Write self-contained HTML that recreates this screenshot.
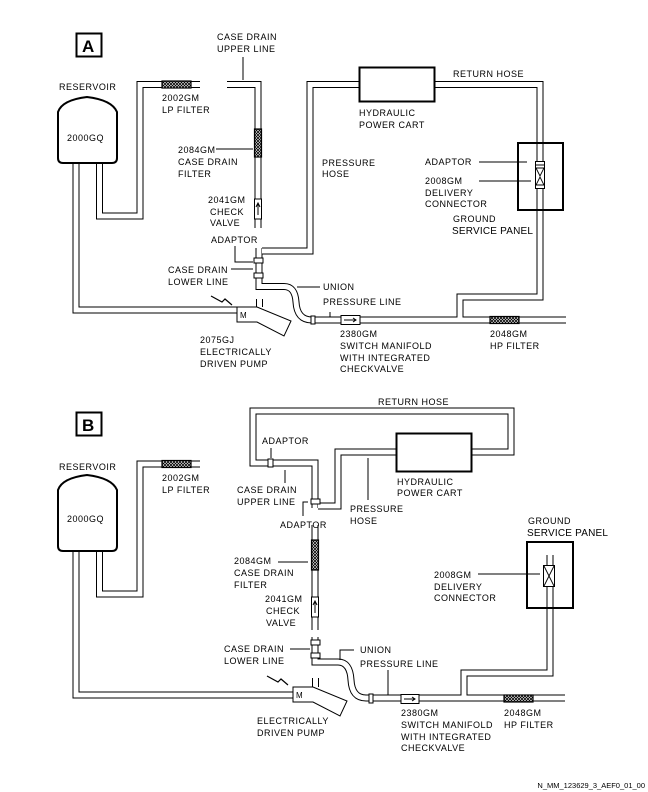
<!DOCTYPE html>
<html><head><meta charset="utf-8"><style>
html,body{margin:0;padding:0;background:#fff}
svg{display:block}
text{font-family:"Liberation Sans",sans-serif;font-size:9px;fill:#000;letter-spacing:0.5px}
</style></head><body>
<svg width="648" height="792" viewBox="0 0 648 792" xmlns="http://www.w3.org/2000/svg">
<defs>
<pattern id="hx" width="3" height="3" patternUnits="userSpaceOnUse">
<rect width="3" height="3" fill="#fff"/><path d="M0,0L3,3M3,0L0,3" stroke="#000" stroke-width="0.8"/>
</pattern>
<g id="pA" fill="none">
<path d="M76,110 L76,310 L238,310"/>
<path d="M99.5,150 L99.5,216 L140,216 L140,84.5 L200,84.5"/>
<path d="M227,84.5 L258,84.5 L258,228"/>
<path d="M259,248 L259,286.5 L284,286.5 Q295,286.5 296,302 Q297,320 312,320 L566,320"/>
<path d="M259.5,299 L259.5,307"/>
<path d="M262,251 L310,251 L310,84.5 L360,84.5"/>
<path d="M434,84.5 L540,84.5 L540,297 L460,297 L460,320"/>
</g>
<g id="pB" fill="none">
<path d="M76,520 L76,695 L293,695"/>
<path d="M99.5,540 L99.5,594 L140,594 L140,464 L200,464"/>
<path d="M472,452 L511,452 L511,411 L253,411 L253,463 L315,463 L315,508"/>
<path d="M396,452 L338,452 L338,506 L318,506"/>
<path d="M315,525 L315,630"/>
<path d="M315,637 L315,662 L338,662 Q350,662 351,680 Q352,698 366,698 L565,698"/>
<path d="M315.5,678 L315.5,687"/>
<path d="M550,555 L550,673 L464,673 L464,698"/>
</g>
</defs>
<use href="#pA" stroke="#000" stroke-width="7"/>
<use href="#pA" stroke="#fff" stroke-width="5"/>
<use href="#pB" stroke="#000" stroke-width="7"/>
<use href="#pB" stroke="#fff" stroke-width="5"/>

<g fill="none" stroke="#000">
<rect x="76.5" y="33.5" width="25" height="23" stroke-width="2"/>
<path d="M58,112 Q62,100 87,97 Q112,100 117,112 L117,158 Q117,163 112,163 L63,163 Q58,163 58,158 Z" fill="#fff" stroke-width="2"/>
<rect x="162" y="81" width="29" height="7" fill="url(#hx)" stroke-width="1.2"/>
<rect x="254.5" y="129" width="7" height="28" fill="url(#hx)" stroke-width="1.2"/>
<rect x="254.5" y="199" width="7" height="20" fill="#fff"/>
<path d="M258,215 L258,204 M256,207 L258,203 L260,207" stroke-width="1"/>
<rect x="254" y="258" width="9" height="5" fill="#fff"/>
<rect x="254" y="273" width="9" height="5" fill="#fff"/>
<path d="M243,57 L243,80 M216,149 L253,149 M235,246 L235,262 L253,262 M231,269 L253,269 M297,287 L320,287 M330,312 L330,317 M479,162 L527,162 M479,181 L531,181" stroke-width="1"/>
<rect x="359.5" y="67.5" width="75" height="34" fill="#fff" stroke-width="2"/>
<rect x="518" y="143" width="45" height="67" stroke-width="2"/>
<rect x="535.5" y="161.5" width="9" height="27" fill="#fff"/>
<path d="M536,165 L544,165 M536,168 L544,168 L540,176 L536,168 M536,185 L544,185 L540,177 Z" stroke-width="0.9"/>
<rect x="341" y="315.5" width="19" height="9" fill="#fff"/>
<path d="M344,320 L356,320 M353,318 L356,320 L353,322" stroke-width="1"/>
<rect x="490" y="316.5" width="29" height="7" fill="url(#hx)" stroke-width="1.2"/>
<rect x="311" y="316" width="4" height="8" fill="#fff"/>
<path d="M237,307 L257,307 L291,321 L284,336 L257,322 L237,322 Z" fill="#fff" stroke-width="1"/>
<path d="M211,296 L222,302 L225,299 L232,305" stroke-width="1.2"/>

<rect x="76.5" y="412.5" width="25" height="23" stroke-width="2"/>
<path d="M58,490 Q62,478 87,475 Q112,478 117,490 L117,546 Q117,551 112,551 L63,551 Q58,551 58,546 Z" fill="#fff" stroke-width="2"/>
<rect x="162" y="460.5" width="29" height="7" fill="url(#hx)" stroke-width="1.2"/>
<rect x="311.5" y="540" width="7" height="30" fill="url(#hx)" stroke-width="1.2"/>
<rect x="311.5" y="597" width="7" height="20" fill="#fff"/>
<path d="M315,613 L315,602 M313,605 L315,601 L317,605" stroke-width="1"/>
<rect x="268" y="459" width="5" height="8" fill="#fff"/>
<rect x="311" y="499" width="9" height="5" fill="#fff"/>
<rect x="311" y="640" width="9" height="5" fill="#fff"/>
<rect x="311" y="653" width="9" height="5" fill="#fff"/>
<path d="M271,448 L271,458 M285,470 L285,483 M303,516 L303,502 L308,502 M278,562 L308,562 M290,649 L310,649 M340,660 L340,650 L354,650 M388,670 L388,695 M368,458 L368,500 M478,574 L540,574" stroke-width="1"/>
<rect x="396.5" y="433.5" width="75" height="38" fill="#fff" stroke-width="2"/>
<rect x="527" y="542" width="46" height="66" stroke-width="2"/>
<rect x="543.5" y="565.5" width="11" height="21" fill="#fff"/>
<path d="M544,566 L554,586 M554,566 L544,586" stroke-width="0.9"/>
<rect x="401" y="694.5" width="18" height="9" fill="#fff"/>
<path d="M404,699 L415,699 M412,697 L415,699 L412,701" stroke-width="1"/>
<rect x="504" y="695" width="29" height="7" fill="url(#hx)" stroke-width="1.2"/>
<rect x="369" y="694" width="4" height="9" fill="#fff"/>
<path d="M293,687 L313,687 L347,701 L340,716 L313,702 L293,702 Z" fill="#fff" stroke-width="1"/>
<path d="M267,676 L278,682 L281,679 L288,685" stroke-width="1.2"/>
</g>

<g>
<text x="82" y="52" style="font-size:17px;font-weight:bold;letter-spacing:0">A</text>
<text x="82" y="431" style="font-size:17px;font-weight:bold;letter-spacing:0">B</text>
<text x="217" y="40">CASE DRAIN</text><text x="217" y="52">UPPER LINE</text>
<text x="59" y="90">RESERVOIR</text>
<text x="67" y="141">2000GQ</text>
<text x="162" y="101">2002GM</text><text x="162" y="113">LP FILTER</text>
<text x="178" y="153">2084GM</text><text x="178" y="165">CASE DRAIN</text><text x="178" y="177">FILTER</text>
<text x="208" y="203">2041GM</text><text x="210" y="215">CHECK</text><text x="210" y="226">VALVE</text>
<text x="211" y="243">ADAPTOR</text>
<text x="168" y="273">CASE DRAIN</text><text x="168" y="285">LOWER LINE</text>
<text x="240" y="318" style="font-size:8px">M</text>
<text x="323" y="290">UNION</text><text x="323" y="305">PRESSURE LINE</text>
<text x="200" y="343">2075GJ</text><text x="200" y="355">ELECTRICALLY</text><text x="200" y="367">DRIVEN PUMP</text>
<text x="340" y="337">2380GM</text><text x="340" y="349">SWITCH MANIFOLD</text><text x="340" y="361">WITH INTEGRATED</text><text x="340" y="372">CHECKVALVE</text>
<text x="490" y="337">2048GM</text><text x="490" y="349">HP FILTER</text>
<text x="359" y="116">HYDRAULIC</text><text x="359" y="128">POWER CART</text>
<text x="453" y="77">RETURN HOSE</text>
<text x="322" y="166">PRESSURE</text><text x="322" y="177">HOSE</text>
<text x="425" y="165">ADAPTOR</text>
<text x="425" y="184">2008GM</text><text x="425" y="196">DELIVERY</text><text x="425" y="207">CONNECTOR</text>
<text x="453" y="222">GROUND</text><text x="452" y="234" style="font-size:10px;letter-spacing:0.2px">SERVICE PANEL</text>

<text x="59" y="470">RESERVOIR</text>
<text x="67" y="522">2000GQ</text>
<text x="162" y="481">2002GM</text><text x="162" y="493">LP FILTER</text>
<text x="262" y="444">ADAPTOR</text>
<text x="237" y="493">CASE DRAIN</text><text x="237" y="505">UPPER LINE</text>
<text x="280" y="528">ADAPTOR</text>
<text x="234" y="564">2084GM</text><text x="234" y="576">CASE DRAIN</text><text x="234" y="588">FILTER</text>
<text x="265" y="602">2041GM</text><text x="266" y="614">CHECK</text><text x="266" y="626">VALVE</text>
<text x="224" y="652">CASE DRAIN</text><text x="224" y="664">LOWER LINE</text>
<text x="296" y="698" style="font-size:8px">M</text>
<text x="360" y="653">UNION</text><text x="360" y="667">PRESSURE LINE</text>
<text x="257" y="724">ELECTRICALLY</text><text x="257" y="736">DRIVEN PUMP</text>
<text x="401" y="716">2380GM</text><text x="401" y="728">SWITCH MANIFOLD</text><text x="401" y="740">WITH INTEGRATED</text><text x="401" y="751">CHECKVALVE</text>
<text x="504" y="716">2048GM</text><text x="504" y="728">HP FILTER</text>
<text x="378" y="405">RETURN HOSE</text>
<text x="397" y="485">HYDRAULIC</text><text x="397" y="496">POWER CART</text>
<text x="350" y="512">PRESSURE</text><text x="350" y="524">HOSE</text>
<text x="528" y="524">GROUND</text><text x="527" y="536" style="font-size:10px;letter-spacing:0.2px">SERVICE PANEL</text>
<text x="434" y="578">2008GM</text><text x="434" y="590">DELIVERY</text><text x="434" y="601">CONNECTOR</text>
<text x="645" y="788" text-anchor="end" style="font-size:7.5px;letter-spacing:0">N_MM_123629_3_AEF0_01_00</text>
</g>
</svg>
</body></html>
